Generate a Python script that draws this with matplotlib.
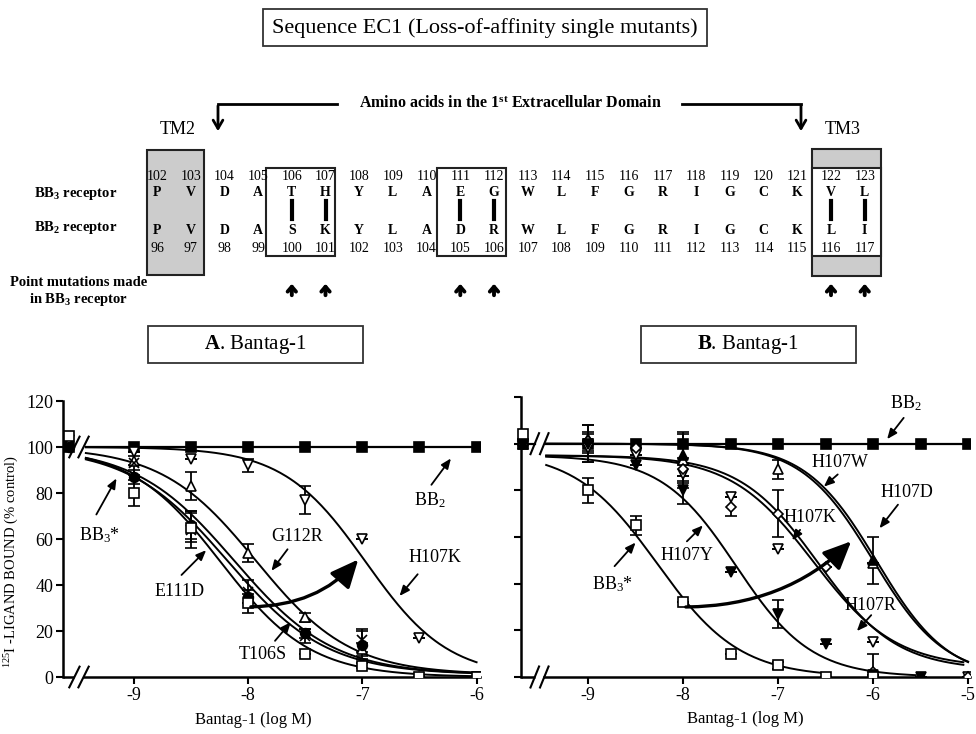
import numpy as np
import matplotlib
matplotlib.use("Agg")
import matplotlib.pyplot as plt
from matplotlib.patches import Rectangle, FancyArrowPatch

plt.rcParams['font.family'] = ['Liberation Serif', 'DejaVu Serif']
plt.rcParams['mathtext.fontset'] = 'custom'
plt.rcParams['mathtext.rm'] = 'Liberation Serif'
plt.rcParams['mathtext.it'] = 'Liberation Serif:italic'
plt.rcParams['mathtext.bf'] = 'Liberation Serif:bold'

# ---- sequence diagram data ----
bb3_num = list(range(102, 124))
bb3_aa = "P V D A T H Y L A E G W L F G R I G C K V L".split()
bb2_num = list(range(96, 118))
bb2_aa = "P V D A S K Y L A D R W L F G R I G C K L I".split()
mutated = [106, 107, 111, 112, 122, 123]

# ---- panel A data (Bantag-1, log M) ----
xa = [-9, -8.5, -8, -7.5, -7, -6.5, -6]
a_bb2 = [100, 100, 100, 100, 100, 100, 100]
a_bb3 = [80, 65, 32, 10, 5, 0, 0]
a_bb3_err = [5.5, 6.5, 4, 0, 1, 0, 0]
a_e111d = [87, 66, 35, 19, 14, 0, 0]
a_e111d_err = [3, 6, 3, 2, 6, 0, 0]
a_t106s = [93, 64, 37, 18, 16, 0, 0]
a_t106s_err = [5, 8, 5, 3, 5, 0, 0]
a_g112r = [94, 83, 54, 26, 12, 0, 0]
a_g112r_err = [2, 6, 4, 2, 3, 0, 0]
a_h107k = [98, 95, 92, 77, 60, 17, 0]
a_h107k_err = [0, 0, 3, 6, 0, 0, 0]
a_ctrl_x = -9.57
a_ctrl = {'BB2': 100, 'BB3*': 105, 'E111D': 100, 'T106S': 101, 'G112R': 102, 'H107K': 103}
# fitted curves: top, bottom, logIC50, hill
a_fit = {'BB3*': (100, 0, -8.24, 1.1), 'E111D': (100, 1, -8.18, 1.0),
         'T106S': (100, 1, -8.12, 1.0), 'G112R': (100, 1, -7.93, 1.05),
         'H107K': (100, 0, -6.97, 1.2)}

# ---- panel B data ----
nan = np.nan
xb = [-9, -8.5, -8, -7.5, -7, -6.5, -6, -5.5, -5]
b_bb2 = [100, 100, 100, 100, 100, 100, 100, 100, 100]
b_bb3 = [80, 65, 32, 10, 5, 0, 0, nan, nan]
b_bb3_err = [5.5, 4, 0, 0, 1.5, 0, 0, 0, 0]
b_h107y = [100, 91, 80, 45, 27, 14, 1, 0, nan]
b_h107y_err = [8, 0, 6, 0, 6, 0, 0, 0, 0]
b_h107k = [101, 98, 89, 73, 70, 47, 2, nan, 0]
b_h107k_err = [0, 0, 5, 4, 10, 0, 8, 0, 0]
b_h107r = [98, 95, 87, 77, 55, nan, 15, nan, 0]
b_h107r_err = [6, 0, 4, 0, 0, 0, 0, 0, 0]
b_h107w = [102, nan, 93, nan, 89, nan, 49, nan, 0]
b_h107w_err = [6, 0, 12, 0, 4, 0, 0, 0, 0]
b_h107d = [101, nan, 95, nan, nan, nan, 50, nan, 0]
b_h107d_err = [4, 0, 9, 0, 0, 0, 10, 0, 0]
b_ctrl_x = -9.68
b_ctrl = {'BB2': 100, 'BB3*': 104, 'H107Y': 100, 'H107K': 101, 'H107R': 100, 'H107W': 101, 'H107D': 100}
# top, bottom, logIC50, hill, end of curve
b_fit = {'BB3*': (97, 0, -8.27, 1.0, -6.5), 'H107Y': (95, 0, -7.44, 1.1, -5.55),
         'H107K': (95, 4, -6.63, 1.0, -5.05), 'H107R': (95, 3, -6.58, 1.05, -5.05),
         'H107W': (100, 0, -6.0, 1.15, -5.0), 'H107D': (100, -1, -5.96, 1.15, -5.0)}


def sigmoid(x, top, bottom, ic50, hill):
    return bottom + (top - bottom) / (1 + 10 ** (hill * (x - ic50)))


fig = plt.figure(figsize=(9.76, 7.34), dpi=100)

# ---------------- top diagram (pixel coordinates) ----------------
d = fig.add_axes([0, 0, 1, 1])
d.set_xlim(0, 976)
d.set_ylim(734, 0)
d.axis('off')

d.add_patch(Rectangle((263, 9), 444, 37, fill=False, ec='#333333', lw=1.3))
d.text(485, 28, "Sequence EC1 (Loss-of-affinity single mutants)", fontsize=16,
       ha='center', va='center')

d.text(510, 104, r"Amino acids in the 1$^{\mathbf{st}}$ Extracellular Domain", fontsize=11.5,
       fontweight='bold', ha='center', va='center')
d.plot([337, 218], [104, 104], color='k', lw=2)
d.annotate('', xy=(218, 134), xytext=(218, 103),
           arrowprops=dict(arrowstyle='->,head_width=0.35,head_length=0.6', lw=2, color='k'))
d.plot([682, 801], [104, 104], color='k', lw=2)
d.annotate('', xy=(801, 134), xytext=(801, 103),
           arrowprops=dict(arrowstyle='->,head_width=0.35,head_length=0.6', lw=2, color='k'))
d.text(178, 130, "TM2", fontsize=13, ha='center', va='center')
d.text(843, 130, "TM3", fontsize=13, ha='center', va='center')

d.add_patch(Rectangle((147, 150), 57, 125, fc='#cccccc', ec='#222222', lw=1.5))
d.add_patch(Rectangle((812, 149), 69, 127, fc='#cccccc', ec='#222222', lw=1.5))
d.add_patch(Rectangle((812, 168), 69, 88, fc='white', ec='#222222', lw=1.5))
d.add_patch(Rectangle((266, 168), 69, 88, fill=False, ec='#222222', lw=1.5))
d.add_patch(Rectangle((437, 168), 69, 88, fill=False, ec='#222222', lw=1.5))

for i in range(len(bb3_num)):
    cx = 157 + 33.7 * i
    d.text(cx, 176, str(bb3_num[i]), fontsize=10, ha='center', va='center')
    d.text(cx, 193, bb3_aa[i], fontsize=10, fontweight='bold', ha='center', va='center')
    d.text(cx, 230, bb2_aa[i], fontsize=10, fontweight='bold', ha='center', va='center')
    d.text(cx, 248, str(bb2_num[i]), fontsize=10, ha='center', va='center')
    if bb3_num[i] in mutated:
        d.plot([cx, cx], [201, 219], color='k', lw=3)
        d.annotate('', xy=(cx, 281), xytext=(cx, 298),
                   arrowprops=dict(arrowstyle='->,head_width=0.3,head_length=0.35', lw=2.8, color='k'))

d.text(117, 193, r"BB$_\mathbf{3}$ receptor", fontsize=10.5, fontweight='bold', ha='right', va='center')
d.text(117, 228, r"BB$_\mathbf{2}$ receptor", fontsize=10.5, fontweight='bold', ha='right', va='center')
d.text(79, 283, "Point mutations made", fontsize=10.5, fontweight='bold', ha='center', va='center')
d.text(79, 300, r"in BB$_\mathbf{3}$ receptor", fontsize=10.5, fontweight='bold', ha='center', va='center')

d.add_patch(Rectangle((148, 326), 215, 37, fill=False, ec='#333333', lw=1.3))
d.text(255, 345, r"$\mathbf{A}$. Bantag-1", fontsize=15, ha='center', va='center')
d.add_patch(Rectangle((641, 326), 215, 37, fill=False, ec='#333333', lw=1.3))
d.text(748, 345, r"$\mathbf{B}$. Bantag-1", fontsize=15, ha='center', va='center')


# ---------------- helper for panels ----------------
def style_axes(ax, xmin, xmax, xticks, brk, show_ylabels):
    ax.set_xlim(xmin, xmax)
    ax.set_ylim(0, 120)
    for s in ['top', 'right']:
        ax.spines[s].set_visible(False)
    ax.spines['left'].set_linewidth(1.8)
    ax.spines['bottom'].set_linewidth(1.8)
    ax.spines['bottom'].set_bounds(brk[1], xmax)
    ax.plot([xmin, brk[0]], [0, 0], color='k', lw=1.8, clip_on=False, solid_capstyle='butt')
    for xb_ in brk:
        for yb in (0, 100):
            ax.plot([xb_ - 0.045, xb_ + 0.045], [yb - 4.5, yb + 4.5], color='k', lw=1.5, clip_on=False)
    ax.set_xticks(xticks)
    ax.set_xticklabels([str(t) for t in xticks])
    ax.set_yticks(range(0, 121, 20))
    if not show_ylabels:
        ax.set_yticklabels([])
    ax.tick_params(direction='out', length=5, width=1.5, labelsize=13, pad=2)
    ax.set_xlabel("Bantag-1 (log M)", fontsize=12)


def series(ax, x, y, err, ctrl_x, ctrl_y, marker, filled, ms=7):
    fc = 'k' if filled else 'white'
    ax.errorbar(x, y, yerr=err, fmt=marker, ms=ms, mfc=fc, mec='k', mew=1.2, ecolor='k',
                elinewidth=1.3, capsize=4, capthick=1.3, zorder=4)
    ax.plot([ctrl_x], [ctrl_y], marker=marker, ms=ms, mfc=fc, mec='k', mew=1.2, ls='none',
            zorder=4, clip_on=False)


def note(ax, text, tpos, tail, head):
    ax.text(tpos[0], tpos[1], text, fontsize=13, ha='center', va='center')
    ax.annotate('', xy=head, xytext=tail,
                arrowprops=dict(arrowstyle='-|>,head_width=0.25,head_length=0.6', lw=1.3, color='k'))


def big_arrow(ax, start, end, angle_b):
    ax.add_patch(FancyArrowPatch(start, end, connectionstyle='angle3,angleA=0,angleB=%d' % angle_b,
                                 arrowstyle='-|>,head_length=1.0,head_width=0.45', mutation_scale=17,
                                 lw=2.4, color='k', zorder=5))


# ---------------- panel A ----------------
axA = fig.add_axes([63 / 976, 57 / 734, 417 / 976, 276 / 734])
axA.patch.set_alpha(0)
style_axes(axA, -9.62, -5.97, [-9, -8, -7, -6], (-9.52, -9.44), True)
axA.set_ylabel("$^{125}$I -LIGAND BOUND (% control)", fontsize=10.5)
axA.yaxis.set_label_coords(-0.1, 0.42)
axA.xaxis.set_label_coords(0.456, -0.125)

axA.plot([-9.42, xa[-1]], [a_bb2[0], a_bb2[-1]], color='k', lw=1.6, zorder=3)
axA.plot([a_ctrl_x, -9.52], [100, 100], color='k', lw=1.6, zorder=3)
xs = np.linspace(-9.42, -6.0, 200)
for name, p in a_fit.items():
    axA.plot(xs, sigmoid(xs, *p), color='k', lw=1.4, zorder=3)

series(axA, xa, a_bb2, None, a_ctrl_x, a_ctrl['BB2'], 's', True)
series(axA, xa, a_h107k, a_h107k_err, a_ctrl_x, a_ctrl['H107K'], 'v', False)
series(axA, xa, a_g112r, a_g112r_err, a_ctrl_x, a_ctrl['G112R'], '^', False)
series(axA, xa, a_t106s, a_t106s_err, a_ctrl_x, a_ctrl['T106S'], 'x', True)
series(axA, xa, a_e111d, a_e111d_err, a_ctrl_x, a_ctrl['E111D'], 'o', True)
series(axA, xa, a_bb3, a_bb3_err, a_ctrl_x, a_ctrl['BB3*'], 's', False)

note(axA, "BB$_3$*", (-9.30, 61.5), (-9.34, 69.6), (-9.14, 87.4))
note(axA, "BB$_2$", (-6.41, 77), (-6.41, 82.6), (-6.21, 96))
note(axA, "G112R", (-7.57, 60.9), (-7.64, 56.5), (-7.81, 45.2))
note(axA, "H107K", (-6.36, 52), (-6.50, 45.6), (-6.69, 34.3))
note(axA, "E111D", (-8.60, 37), (-8.60, 43.5), (-8.35, 56))
note(axA, "T106S", (-7.87, 9.6), (-7.78, 14.8), (-7.61, 24.8))
big_arrow(axA, (-8.0, 30.5), (-7.02, 52), 50)

# ---------------- panel B ----------------
axB = fig.add_axes([521 / 976, 57 / 734, 449 / 976, 280 / 734])
axB.patch.set_alpha(0)
style_axes(axB, -9.705, -4.98, [-9, -8, -7, -6, -5], (-9.56, -9.46), False)
axB.xaxis.set_label_coords(0.5, -0.12)

axB.plot([-9.44, xb[-1]], [b_bb2[0], b_bb2[-1]], color='k', lw=1.6, zorder=3)
axB.plot([b_ctrl_x, -9.56], [100, 100], color='k', lw=1.6, zorder=3)
for name, p in b_fit.items():
    xs = np.linspace(-9.44, p[4], 200)
    axB.plot(xs, sigmoid(xs, *p[:4]), color='k', lw=1.4, zorder=3)

series(axB, xb, b_bb2, None, b_ctrl_x, b_ctrl['BB2'], 's', True)
series(axB, xb, b_h107w, b_h107w_err, b_ctrl_x, b_ctrl['H107W'], '^', False)
series(axB, xb, b_h107d, b_h107d_err, b_ctrl_x, b_ctrl['H107D'], '^', True)
series(axB, xb, b_h107r, b_h107r_err, b_ctrl_x, b_ctrl['H107R'], 'v', False)
series(axB, xb, b_h107k, b_h107k_err, b_ctrl_x, b_ctrl['H107K'], 'D', False, ms=5)
series(axB, xb, b_h107y, b_h107y_err, b_ctrl_x, b_ctrl['H107Y'], 'v', True)
series(axB, xb, b_bb3, b_bb3_err, b_ctrl_x, b_ctrl['BB3*'], 's', False)

note(axB, "BB$_2$", (-5.66, 117.5), (-5.66, 112), (-5.87, 101))
note(axB, "H107W", (-6.35, 92), (-6.35, 87.6), (-6.54, 80.8))
note(axB, "H107D", (-5.64, 79), (-5.72, 74.8), (-5.95, 62.8))
note(axB, "H107K", (-6.66, 68.4), (-6.75, 64), (-6.87, 57.7))
note(axB, "H107Y", (-7.96, 52.1), (-7.98, 57.3), (-7.77, 65.8))
note(axB, "BB$_3$*", (-8.74, 40), (-8.74, 46.6), (-8.48, 58.5))
note(axB, "H107R", (-6.03, 30.5), (-6.0, 27.4), (-6.19, 18.8))
big_arrow(axB, (-8.0, 30), (-6.21, 59), 45)

fig.savefig("out.png", dpi=100)
